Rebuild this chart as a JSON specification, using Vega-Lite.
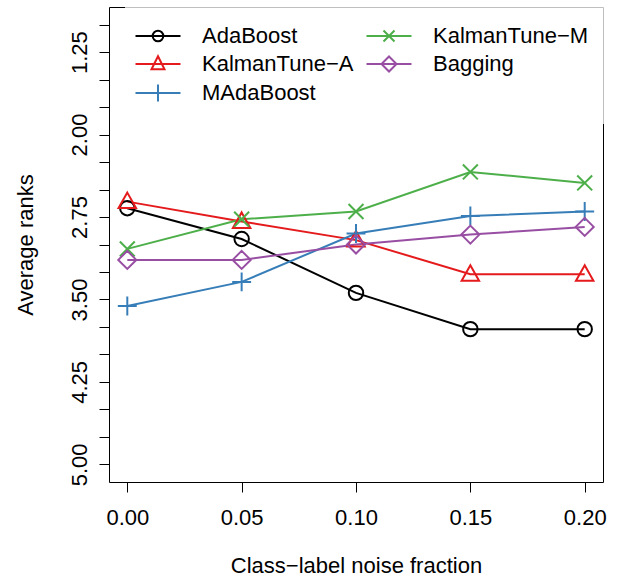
{
  "$schema": "https://vega.github.io/schema/vega-lite/v6.json",
  "width": 494,
  "height": 475,
  "autosize": {"type": "none"},
  "padding": {"left": 109, "top": 7, "right": 17, "bottom": 94},
  "background": "white",
  "config": {
    "font": "Liberation Sans",
    "view": {"stroke": null},
    "axis": {
      "labelFont": "Liberation Sans",
      "titleFont": "Liberation Sans",
      "labelFontSize": 22,
      "titleFontSize": 22,
      "titleFontWeight": "normal",
      "labelColor": "black",
      "titleColor": "black",
      "tickColor": "black",
      "tickSize": 10,
      "tickWidth": 1,
      "domain": true,
      "domainColor": "black",
      "domainWidth": 1,
      "grid": false,
      "labelOverlap": false,
      "labelFlush": false,
      "zindex": 0
    },
    "legend": {
      "orient": "none",
      "legendX": 16,
      "legendY": -4,
      "columns": 2,
      "columnPadding": 8,
      "rowPadding": 2,
      "padding": 18,
      "fillColor": "rgba(255,255,255,0.75)",
      "labelFont": "Liberation Sans",
      "labelFontSize": 22,
      "labelColor": "black",
      "labelLimit": 0,
      "labelOffset": 29,
      "symbolOffset": 0,
      "symbolSize": 784,
      "symbolStrokeWidth": 2,
      "symbolFillColor": "transparent",
      "zindex": 1
    }
  },
  "data": {
    "values": [
      {"method": "AdaBoost", "noise": 0.00, "rank": 2.67},
      {"method": "AdaBoost", "noise": 0.05, "rank": 2.95},
      {"method": "AdaBoost", "noise": 0.10, "rank": 3.44},
      {"method": "AdaBoost", "noise": 0.15, "rank": 3.77},
      {"method": "AdaBoost", "noise": 0.20, "rank": 3.77},
      {"method": "KalmanTune−A", "noise": 0.00, "rank": 2.61},
      {"method": "KalmanTune−A", "noise": 0.05, "rank": 2.79},
      {"method": "KalmanTune−A", "noise": 0.10, "rank": 2.96},
      {"method": "KalmanTune−A", "noise": 0.15, "rank": 3.27},
      {"method": "KalmanTune−A", "noise": 0.20, "rank": 3.27},
      {"method": "MAdaBoost", "noise": 0.00, "rank": 3.56},
      {"method": "MAdaBoost", "noise": 0.05, "rank": 3.34},
      {"method": "MAdaBoost", "noise": 0.10, "rank": 2.90},
      {"method": "MAdaBoost", "noise": 0.15, "rank": 2.74},
      {"method": "MAdaBoost", "noise": 0.20, "rank": 2.70},
      {"method": "KalmanTune−M", "noise": 0.00, "rank": 3.04},
      {"method": "KalmanTune−M", "noise": 0.05, "rank": 2.77},
      {"method": "KalmanTune−M", "noise": 0.10, "rank": 2.70},
      {"method": "KalmanTune−M", "noise": 0.15, "rank": 2.34},
      {"method": "KalmanTune−M", "noise": 0.20, "rank": 2.44},
      {"method": "Bagging", "noise": 0.00, "rank": 3.14},
      {"method": "Bagging", "noise": 0.05, "rank": 3.14},
      {"method": "Bagging", "noise": 0.10, "rank": 3.00},
      {"method": "Bagging", "noise": 0.15, "rank": 2.91},
      {"method": "Bagging", "noise": 0.20, "rank": 2.84}
    ]
  },
  "resolve": {
    "axis": {"x": "independent", "y": "independent"}
  },
  "layer": [
    {
      "mark": {"type": "line", "strokeWidth": 2},
      "encoding": {
        "x": {
          "field": "noise", "type": "quantitative",
          "scale": {"domain": [-0.008, 0.208], "nice": false, "zero": false},
          "axis": {
            "orient": "bottom",
            "values": [0, 0.05, 0.1, 0.15, 0.2],
            "format": ".2f",
            "labelPadding": 15,
            "title": "Class−label noise fraction",
            "titleX": 247,
            "titleY": 90,
            "titleAlign": "center",
            "titleBaseline": "alphabetic"
          }
        },
        "y": {
          "field": "rank", "type": "quantitative",
          "scale": {"domain": [0.84, 5.16], "reverse": true, "nice": false, "zero": false},
          "axis": {
            "orient": "left",
            "values": [1, 1.25, 1.5, 1.75, 2, 2.25, 2.5, 2.75, 3, 3.25, 3.5, 3.75, 4, 4.25, 4.5, 4.75, 5],
            "labelExpr": "indexof([1.25, 2, 2.75, 3.5, 4.25, 5], datum.value) >= 0 ? format(datum.value, '.2f') : ''",
            "labelAngle": -90,
            "labelAlign": "center",
            "labelBaseline": "alphabetic",
            "labelPadding": 13,
            "title": "Average ranks",
            "titleAngle": -90,
            "titleX": -77,
            "titleY": 237.5,
            "titleAlign": "center",
            "titleBaseline": "alphabetic"
          }
        },
        "color": {
          "field": "method", "type": "nominal", "legend": {"title": null},
          "scale": {
            "domain": ["AdaBoost", "KalmanTune−A", "MAdaBoost", "KalmanTune−M", "Bagging"],
            "range": ["#000000", "#E41A1C", "#377EB8", "#4DAF4A", "#984EA3"]
          }
        }
      }
    },
    {
      "transform": [{"filter": {"field": "method", "equal": "AdaBoost"}}],
      "mark": {"type": "point", "filled": false, "strokeWidth": 2, "size": 324, "opacity": 1,
               "shape": "M-0.8,0A0.8,0.8 0 1,0 0.8,0A0.8,0.8 0 1,0 -0.8,0"},
      "encoding": {
        "x": {"field": "noise", "type": "quantitative", "axis": null},
        "y": {"field": "rank", "type": "quantitative", "axis": null},
        "color": {"field": "method", "type": "nominal", "legend": {"title": null}}
      }
    },
    {
      "transform": [{"filter": {"field": "method", "equal": "KalmanTune−A"}}],
      "mark": {"type": "point", "filled": false, "strokeWidth": 2, "size": 324, "opacity": 1,
               "shape": "M0,-1L0.97,0.72L-0.97,0.72Z"},
      "encoding": {
        "x": {"field": "noise", "type": "quantitative", "axis": null},
        "y": {"field": "rank", "type": "quantitative", "axis": null},
        "color": {"field": "method", "type": "nominal", "legend": {"title": null}}
      }
    },
    {
      "transform": [{"filter": {"field": "method", "equal": "MAdaBoost"}}],
      "mark": {"type": "point", "filled": false, "strokeWidth": 2, "size": 324, "opacity": 1,
               "shape": "M-1.05,0L1.05,0M0,-1.05L0,1.05"},
      "encoding": {
        "x": {"field": "noise", "type": "quantitative", "axis": null},
        "y": {"field": "rank", "type": "quantitative", "axis": null},
        "color": {"field": "method", "type": "nominal", "legend": {"title": null}}
      }
    },
    {
      "transform": [{"filter": {"field": "method", "equal": "KalmanTune−M"}}],
      "mark": {"type": "point", "filled": false, "strokeWidth": 2, "size": 324, "opacity": 1,
               "shape": "M-0.83,-0.83L0.83,0.83M-0.83,0.83L0.83,-0.83"},
      "encoding": {
        "x": {"field": "noise", "type": "quantitative", "axis": null},
        "y": {"field": "rank", "type": "quantitative", "axis": null},
        "color": {"field": "method", "type": "nominal", "legend": {"title": null}}
      }
    },
    {
      "transform": [{"filter": {"field": "method", "equal": "Bagging"}}],
      "mark": {"type": "point", "filled": false, "strokeWidth": 2, "size": 324, "opacity": 1,
               "shape": "M0,-1L1,0L0,1L-1,0Z"},
      "encoding": {
        "x": {"field": "noise", "type": "quantitative", "axis": null},
        "y": {"field": "rank", "type": "quantitative", "axis": null},
        "color": {"field": "method", "type": "nominal", "legend": {"title": null}}
      }
    },
    {
      "transform": [{"filter": "datum.noise < -1"}],
      "mark": {"type": "point", "filled": false, "strokeWidth": 2, "opacity": 1},
      "encoding": {
        "x": {
          "field": "noise", "type": "quantitative",
          "axis": {"orient": "top", "labels": false, "ticks": false, "title": null, "values": []}
        },
        "y": {
          "field": "rank", "type": "quantitative",
          "axis": {"orient": "right", "labels": false, "ticks": false, "title": null, "values": []}
        },
        "color": {"field": "method", "type": "nominal", "legend": {"title": null}},
        "shape": {
          "field": "method", "type": "nominal",
          "legend": {"title": null},
          "scale": {
            "domain": ["AdaBoost", "KalmanTune−A", "MAdaBoost", "KalmanTune−M", "Bagging"],
            "range": [
              "M-1.607,0L1.607,0M-0.379,0A0.379,0.379 0 1,0 0.379,0A0.379,0.379 0 1,0 -0.379,0",
              "M-1.607,0L1.607,0M0,-0.55L0.464,0.379L-0.464,0.379Z",
              "M-1.607,0L1.607,0M0,-0.607L0,0.607",
              "M-1.607,0L1.607,0M-0.393,-0.393L0.393,0.393M-0.393,0.393L0.393,-0.393",
              "M-1.607,0L1.607,0M0,-0.536L0.536,0L0,0.536L-0.536,0Z"
            ]
          }
        }
      }
    }
  ]
}
